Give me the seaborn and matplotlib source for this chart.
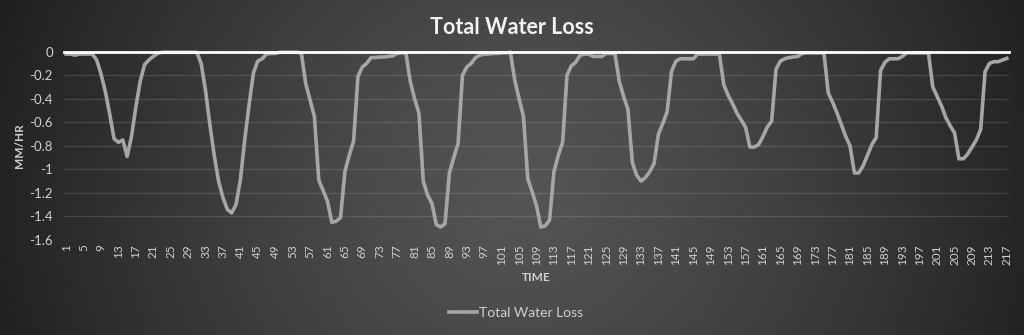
import numpy as np
import pandas as pd
import matplotlib
matplotlib.use("Agg")
import matplotlib.pyplot as plt
import seaborn as sns
from matplotlib.ticker import FuncFormatter

# ---- data ----
title = "Total Water Loss"
series_name = "Total Water Loss"
x_label = "TIME"
y_label = "MM/HR"
time = list(range(1, 218))
water_loss = [
    -0.02, -0.02, -0.03, -0.02, -0.02, -0.02, -0.02, -0.07, -0.19, -0.34,
    -0.53, -0.74, -0.77, -0.75, -0.89, -0.72, -0.47, -0.25, -0.11, -0.07,
    -0.04, -0.015, -0.005, -0.005, -0.005, -0.005, -0.005, -0.005, -0.005, -0.005,
    -0.005, -0.10, -0.33, -0.62, -0.88, -1.10, -1.24, -1.34, -1.37, -1.30,
    -1.09, -0.75, -0.45, -0.18, -0.08, -0.06, -0.02, -0.015, -0.015, -0.005,
    -0.005, -0.005, -0.005, -0.005, -0.01, -0.27, -0.41, -0.55, -1.09, -1.18,
    -1.27, -1.45, -1.44, -1.41, -1.02, -0.88, -0.76, -0.21, -0.13, -0.10,
    -0.05, -0.05, -0.045, -0.045, -0.04, -0.035, -0.015, -0.01, -0.01, -0.25,
    -0.40, -0.52, -1.10, -1.22, -1.29, -1.47, -1.49, -1.46, -1.03, -0.90,
    -0.78, -0.20, -0.13, -0.10, -0.05, -0.03, -0.02, -0.02, -0.015, -0.015,
    -0.01, -0.01, -0.005, -0.24, -0.40, -0.55, -1.08, -1.19, -1.31, -1.49,
    -1.48, -1.43, -1.02, -0.88, -0.77, -0.20, -0.12, -0.09, -0.03, -0.02,
    -0.02, -0.04, -0.04, -0.04, -0.015, -0.015, -0.015, -0.25, -0.38, -0.49,
    -0.94, -1.05, -1.10, -1.07, -1.02, -0.95, -0.70, -0.61, -0.51, -0.17,
    -0.08, -0.06, -0.06, -0.06, -0.06, -0.02, -0.02, -0.02, -0.02, -0.02,
    -0.02, -0.28, -0.37, -0.44, -0.52, -0.58, -0.64, -0.81, -0.81, -0.79,
    -0.72, -0.64, -0.59, -0.15, -0.08, -0.06, -0.05, -0.045, -0.04, -0.015,
    -0.01, -0.01, -0.01, -0.01, -0.01, -0.35, -0.43, -0.52, -0.62, -0.72,
    -0.80, -1.03, -1.03, -0.97, -0.88, -0.79, -0.73, -0.16, -0.09, -0.06,
    -0.06, -0.06, -0.04, -0.01, -0.01, -0.01, -0.01, -0.01, -0.01, -0.30,
    -0.38, -0.46, -0.56, -0.63, -0.69, -0.91, -0.91, -0.87, -0.81, -0.75,
    -0.66, -0.17, -0.10, -0.085, -0.085, -0.07, -0.057,
]
x_ticks = list(range(1, 218, 4))
y_ticks = [0, -0.2, -0.4, -0.6, -0.8, -1.0, -1.2, -1.4, -1.6]

assert len(water_loss) == len(time)
df = pd.DataFrame({"time": time, "loss": water_loss})

plt.rcParams['font.family'] = ['Lato', 'DejaVu Sans']

W, H = 1024, 335
fig = plt.figure(figsize=(W / 100, H / 100), dpi=100)

# radial gradient background
bg = fig.add_axes([0, 0, 1, 1])
yy, xx = np.mgrid[0:H, 0:W]
r = np.hypot((xx - 520) / 600.0, (yy - 190) / 560.0)
c_in, c_out = 0.33, 0.115
val = np.clip(c_in - (c_in - c_out) * (r / 0.95) ** 1.3, c_out, c_in)
bg.imshow(np.dstack([val, val, val]), aspect='auto', extent=[0, 1, 0, 1], origin='upper')
bg.set_axis_off()

left, right, top, bottom = 64, 1009, 51.7, 240
ax = fig.add_axes([left / W, (H - bottom) / H, (right - left) / W, (bottom - top) / H])
ax.patch.set_alpha(0)

sns.lineplot(data=df, x="time", y="loss", ax=ax, color="#a6a6a6", linewidth=2.6,
             label=series_name, clip_on=False, zorder=3)

ax.set_xlim(0.5, 217.5)
ax.set_ylim(-1.6, 0)
ax.set_yticks(y_ticks)
ax.yaxis.set_major_formatter(FuncFormatter(lambda v, p: f"{v:g}" if v != 0 else "0"))
ax.set_xticks(x_ticks)
ax.set_xticklabels([str(t) for t in x_ticks], rotation=90)
for t in y_ticks[1:]:
    ax.axhline(t, color="#ffffff", alpha=0.13, linewidth=0.9, zorder=1)
ax.axhline(0, color="#ffffff", linewidth=2.0, zorder=4, clip_on=False)

ax.tick_params(axis='both', length=0, colors="#d0d0d0")
ax.tick_params(axis='y', labelsize=9.5, pad=8)
ax.tick_params(axis='x', labelsize=8.5, pad=3)
for s in ax.spines.values():
    s.set_visible(False)

ax.set_xlabel(x_label, color="#d0d0d0", fontsize=8.5, fontweight='bold', labelpad=5)
ax.set_ylabel(y_label, color="#d0d0d0", fontsize=8.5, fontweight='bold', labelpad=3)

fig.text(0.5, 1 - 28 / H, title, ha='center', va='center', color="#f2f2f2",
         fontsize=15.5, fontweight='bold')

leg = ax.legend(loc='center', bbox_to_anchor=((516 - left) / (right - left), -(313 - bottom) / (bottom - top)),
                frameon=False, fontsize=10, handlelength=2.0, handletextpad=0.1)
for txt in leg.get_texts():
    txt.set_color("#d0d0d0")

fig.savefig("out.png", dpi=100)
